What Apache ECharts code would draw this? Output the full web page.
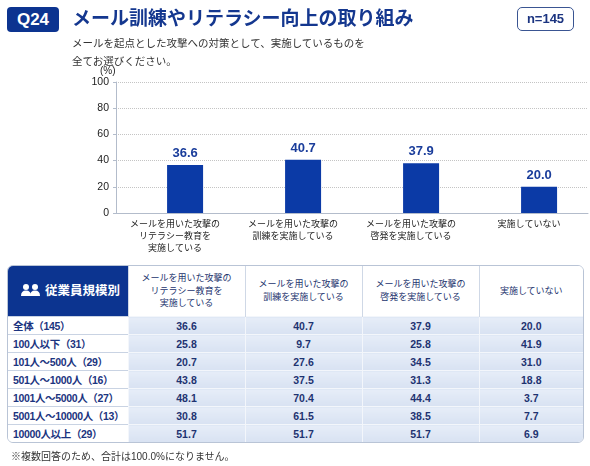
<!DOCTYPE html>
<html>
<head>
<meta charset="utf-8">
<script src="https://cdn.jsdelivr.net/npm/echarts@6/dist/echarts.min.js"></script>
<style>
body{margin:0;background:#fff;font-family:"Liberation Sans","Noto Sans CJK JP",sans-serif;}
#wrap{position:relative;width:590px;height:466px;overflow:hidden;}
#chart{position:absolute;left:0;top:0;width:590px;height:466px;}
.abs{position:absolute;}
#qno{left:7px;top:7px;width:52px;height:25px;line-height:25px;background:#0c3490;color:#fff;font-weight:bold;font-size:17px;text-align:center;border-radius:4px;}
#title{left:72px;top:6px;font-size:19px;font-weight:bold;color:#14378f;line-height:26px;white-space:nowrap;}
#nbox{left:517px;top:7px;width:55px;height:22px;line-height:22px;border:1px solid #3a5592;border-radius:5px;color:#1b3480;font-weight:bold;font-size:13px;text-align:center;}
#sub{left:72px;top:34px;font-size:10.5px;line-height:18px;color:#333;}
#tbl{left:7px;top:265px;width:575px;border:1px solid #b9c4d6;border-radius:6px;overflow:hidden;background:#fff;}
#tbl table{border-collapse:collapse;table-layout:fixed;width:575px;}
#tbl th{height:50px;padding:0;font-size:9px;line-height:12.7px;font-weight:normal;color:#23336d;background:#fff;border-left:1px solid #cfd8e6;text-align:center;}
#tbl th.hd1{background:#0c3490;color:#fff;text-align:left;padding-left:13px;font-size:12.5px;font-weight:bold;border-left:none;}
#tbl th.hd1 svg{vertical-align:-1px;margin-right:5px;}
#tbl td{height:17px;padding:0;font-size:10.5px;font-weight:bold;}
#tbl td.lab{color:#1b3480;padding-left:5px;border-top:1px solid #c9d3e3;background:#fff;white-space:nowrap;letter-spacing:-0.35px;}
#tbl td.val{color:#1e3371;text-align:center;background:linear-gradient(#e6edf8,#d8e2f2);border-top:1px solid #f3f6fb;border-left:1px solid #f3f6fb;}
#note{left:11px;top:450px;font-size:10px;line-height:14px;color:#333;white-space:nowrap;}
</style>
</head>
<body>
<div id="wrap">
  <div id="chart"></div>
  <div id="qno" class="abs">Q24</div>
  <div id="title" class="abs">メール訓練やリテラシー向上の取り組み</div>
  <div id="nbox" class="abs">n=145</div>
  <div id="sub" class="abs">メールを起点とした攻撃への対策として、実施しているものを<br>全てお選びください。</div>
  <div id="tbl" class="abs"></div>
  <div id="note" class="abs">※複数回答のため、合計は100.0%になりません。</div>
</div>
<script>
// answer choices (x axis and table columns)
var categories = [
    'メールを用いた攻撃の\nリテラシー教育を\n実施している',
    'メールを用いた攻撃の\n訓練を実施している',
    'メールを用いた攻撃の\n啓発を実施している',
    '実施していない'
];
// company size rows
var sizeLabels = ['全体（145）', '100人以下（31）', '101人～500人（29）', '501人～1000人（16）',
    '1001人～5000人（27）', '5001人～10000人（13）', '10000人以上（29）'];
// % per row, one array per answer
var literacy  = [36.6, 25.8, 20.7, 43.8, 48.1, 30.8, 51.7];
var training  = [40.7, 9.7, 27.6, 37.5, 70.4, 61.5, 51.7];
var awareness = [37.9, 25.8, 34.5, 31.3, 44.4, 38.5, 51.7];
var noneDone  = [20.0, 41.9, 31.0, 18.8, 3.7, 7.7, 6.9];
// overall (n=145) for the bar chart
var overall = [literacy[0], training[0], awareness[0], noneDone[0]];

var font = '"Liberation Sans","Noto Sans CJK JP",sans-serif';

/* bar chart */
var chart = echarts.init(document.getElementById('chart'));
chart.setOption({
    animation: false,
    textStyle: {fontFamily: font},
    grid: {left: 116, right: 2, top: 82, bottom: 253},
    xAxis: {
        type: 'category',
        data: categories,
        axisLine: {lineStyle: {color: '#b3bccb'}},
        axisTick: {show: false},
        axisLabel: {interval: 0, fontSize: 9, lineHeight: 12, color: '#222', margin: 6}
    },
    yAxis: {
        type: 'value',
        min: 0,
        max: 100,
        interval: 20,
        axisLine: {show: true, lineStyle: {color: '#b3bccb'}},
        axisTick: {show: true, length: 3, lineStyle: {color: '#b3bccb'}},
        axisLabel: {fontSize: 10.5, color: '#222', margin: 7},
        splitLine: {lineStyle: {type: 'dotted', color: '#c4c4c4'}}
    },
    graphic: [{type: 'text', left: 100, top: 66, style: {text: '(%)', fontSize: 10, fill: '#222', fontFamily: font}}],
    series: [
        // empty slot: pushes the real bars a little right of the band centre, as in the original
        {type: 'bar', data: [], barWidth: 36, silent: true},
        {
            type: 'bar',
            data: overall,
            barWidth: 36,
            barGap: '-44%',
            itemStyle: {color: '#0b3aa6'},
            label: {
                show: true,
                position: 'top',
                distance: 5,
                fontSize: 13,
                fontWeight: 'bold',
                color: '#1a3d9b',
                formatter: function (p) { return p.value.toFixed(1); }
            }
        }
    ]
});

/* table below the chart */
var cols = [literacy, training, awareness, noneDone];
var icon = '<svg width="19" height="12" viewBox="0 0 19 12"><circle cx="5" cy="3" r="3" fill="#fff"/>' +
    '<path d="M0 12Q0 6.5 5 6.5Q10 6.5 10 12Z" fill="#fff"/><circle cx="14" cy="3" r="3" fill="#fff"/>' +
    '<path d="M9 12Q9 6.5 14 6.5Q19 6.5 19 12Z" fill="#fff"/></svg>';
var html = '<table><colgroup><col style="width:120px"><col style="width:117px"><col style="width:117px"><col style="width:117px"><col style="width:104px"></colgroup>';
html += '<tr><th class="hd1">' + icon + '従業員規模別</th>';
for (var c = 0; c < categories.length; c++) {
    html += '<th>' + categories[c].replace(/\n/g, '<br>') + '</th>';
}
html += '</tr>';
for (var r = 0; r < sizeLabels.length; r++) {
    html += '<tr><td class="lab">' + sizeLabels[r] + '</td>';
    for (var c = 0; c < cols.length; c++) {
        html += '<td class="val">' + cols[c][r].toFixed(1) + '</td>';
    }
    html += '</tr>';
}
html += '</table>';
document.getElementById('tbl').innerHTML = html;
</script>
</body>
</html>
